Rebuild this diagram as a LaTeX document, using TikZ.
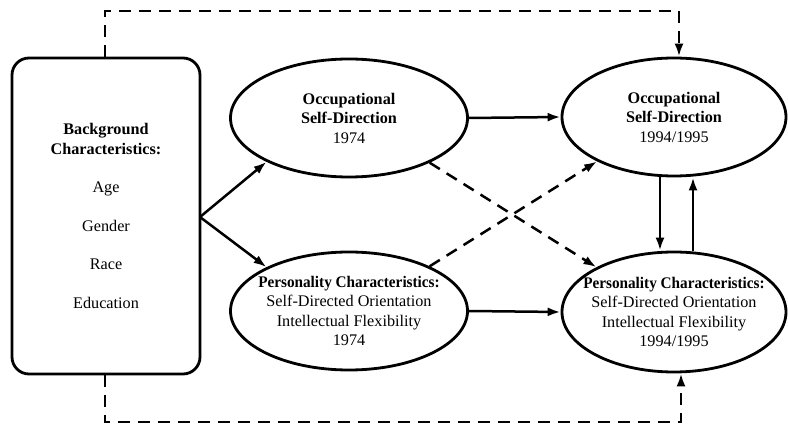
\documentclass[tikz,border=0pt]{standalone}
\usepackage{fontspec}
\setmainfont{Liberation Serif}
\usetikzlibrary{shapes.geometric,arrows.meta}
\newcommand{\pchead}{\scalebox{0.94}[1]{\textbf{Personality Characteristics:}}}
\begin{document}
\begin{tikzpicture}[x=1pt,y=-1pt,
  txt/.style={font=\fontsize{16.2}{19.5}\selectfont,align=center,inner sep=0pt},
  oval/.style={draw,line width=2.8pt,ellipse,inner sep=0pt},
  conn/.style={line width=2.5pt,-{Latex[length=13pt,width=9pt]}},
  dconn/.style={conn,dash pattern=on 12pt off 8pt}]
\useasboundingbox (0,0) rectangle (788,427);
\node[draw,line width=2.8pt,rounded corners=17pt,minimum width=188pt,minimum height=316pt,inner sep=0pt] (bg) at (106,216) {};
\node[txt] (bgt) at (bg.center)
  {\textbf{Background}\\\textbf{Characteristics:}\\[19pt]Age\\[19pt]Gender\\[19pt]Race\\[19pt]Education};
\node[oval,minimum width=237pt,minimum height=118pt] (o1) at (349,118) {};
\node[txt] (o1t) at (o1.center) {\textbf{Occupational}\\\textbf{Self-Direction}\\1974};
\node[oval,minimum width=224pt,minimum height=118pt] (o2) at (674,117) {};
\node[txt] (o2t) at (o2.center) {\textbf{Occupational}\\\textbf{Self-Direction}\\1994/1995};
\node[oval,minimum width=237pt,minimum height=118pt] (p1) at (349,311) {};
\node[txt] (p1t) at (p1.center) {\pchead\\Self-Directed Orientation\\Intellectual Flexibility\\1974};
\node[oval,minimum width=224pt,minimum height=120pt] (p2) at (674,312) {};
\node[txt] (p2t) at (p2.center) {\pchead\\Self-Directed Orientation\\Intellectual Flexibility\\1994/1995};
\coordinate (br) at (200,217);
\draw[conn] (br) -- (p1.152);
\draw[conn] (br) -- (o1.208);
\draw[conn] (o1.east) -- (o2.west);
\draw[conn] (p1.east) -- (p2.west);
\draw[dconn] (o1.331) -- (p2.150);
\draw[dconn] (p1.29) -- (o2.210);
\draw[conn] (o2.south -| 660,0) -- (p2.north -| 660,0);
\draw[conn] (p2.north -| 693,0) -- (o2.south -| 693,0);
\coordinate (t1) at (105,11);
\coordinate (t2) at (679,11);
\coordinate (b1) at (105,422);
\coordinate (b2) at (681,422);
\draw[dconn] (bg.north -| t1) -- (t1) -- (t2) -- (o2.north -| t2);
\draw[dconn] (bg.south -| b1) -- (b1) -- (b2) -- (p2.south -| b2);
\end{tikzpicture}
\end{document}
